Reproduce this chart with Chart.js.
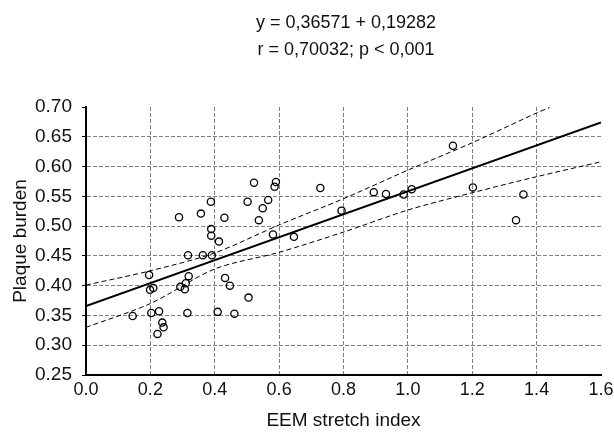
<!DOCTYPE html>
<html>
<head>
<meta charset="utf-8">
<script src="https://cdn.jsdelivr.net/npm/chart.js@4.4.1/dist/chart.umd.min.js"></script>
<style>
  body { margin: 0; background: #fff; }
  #wrap { width: 614px; height: 436px; }
</style>
</head>
<body>
<div id="wrap"><canvas id="myChart" width="614" height="436"></canvas></div>
<script>
var FONT = "'Liberation Sans Narrow', 'Liberation Sans', Arial, sans-serif";

var titleLines = ['y = 0,36571 + 0,19282', 'r = 0,70032; p < 0,001'];
var xTitle = 'EEM stretch index';
var yTitle = 'Plaque burden';

// observations (EEM stretch index, plaque burden)
var stretchIndex = [0.289, 0.357, 0.388, 0.430, 0.389, 0.389, 0.413, 0.522, 0.502, 0.566,
    0.549, 0.537, 0.590, 0.586, 0.581, 0.646, 0.728, 0.794,
    0.196, 0.199, 0.209, 0.145, 0.203, 0.227, 0.237, 0.241, 0.222, 0.293,
    0.310, 0.307, 0.319, 0.317, 0.363, 0.391, 0.315, 0.409, 0.432, 0.447,
    0.461, 0.505,
    0.894, 0.932, 0.987, 1.012, 1.140, 1.202, 1.359, 1.336];
var plaqueBurden = [0.515, 0.521, 0.541, 0.514, 0.495, 0.484, 0.474, 0.573, 0.541, 0.544,
    0.530, 0.510, 0.574, 0.566, 0.486, 0.482, 0.564, 0.526,
    0.418, 0.393, 0.396, 0.349, 0.354, 0.357, 0.338, 0.330, 0.319, 0.398,
    0.404, 0.394, 0.416, 0.451, 0.451, 0.451, 0.354, 0.356, 0.413, 0.400,
    0.353, 0.380,
    0.557, 0.554, 0.553, 0.562, 0.635, 0.565, 0.553, 0.510];

// regression line y = 0,36571 + 0,19282x
var fitX = [0, 1.6];
var fitY = [0.36571, 0.67422];

// confidence band
var upperX = [0, 0.2, 0.4, 0.6, 0.8, 1.0, 1.2, 1.4, 1.44];
var upperY = [0.401, 0.425, 0.455, 0.502, 0.546, 0.594, 0.640, 0.690, 0.699];
var lowerX = [0, 0.2, 0.4, 0.6, 0.8, 1.0, 1.2, 1.4, 1.6];
var lowerY = [0.330, 0.370, 0.428, 0.456, 0.490, 0.527, 0.556, 0.583, 0.608];

function pairs(xs, ys) {
    return xs.map(function (x, i) { return {x: x, y: ys[i]}; });
}

var titlePlugin = {
    id: 'twoLineTitle',
    afterDraw: function (chart) {
        var c = chart.ctx;
        c.save();
        c.fillStyle = '#111';
        c.font = '18px ' + FONT;
        c.textAlign = 'center';
        c.textBaseline = 'middle';
        c.fillText(titleLines[0], 346, 23);
        c.fillText(titleLines[1], 346, 50);
        c.restore();
    }
};

var ctx = document.getElementById('myChart').getContext('2d');
var myChart = new Chart(ctx, {
    type: 'scatter',
    data: {
        datasets: [{
            data: pairs(stretchIndex, plaqueBurden),
            pointRadius: 3.6,
            pointBorderWidth: 1.3,
            pointBorderColor: '#000',
            pointBackgroundColor: 'rgba(255,255,255,0)',
            showLine: false
        }, {
            data: pairs(fitX, fitY),
            showLine: true,
            borderColor: '#000',
            borderWidth: 2,
            pointRadius: 0
        }, {
            data: pairs(upperX, upperY),
            showLine: true,
            borderColor: '#000',
            borderWidth: 1,
            borderDash: [5, 3],
            tension: 0.3,
            pointRadius: 0
        }, {
            data: pairs(lowerX, lowerY),
            showLine: true,
            borderColor: '#000',
            borderWidth: 1,
            borderDash: [5, 3],
            tension: 0.3,
            pointRadius: 0
        }]
    },
    options: {
        responsive: false,
        animation: false,
        layout: { padding: { top: 107, right: 13, left: 0, bottom: 0 } },
        plugins: {
            legend: { display: false },
            tooltip: { enabled: false }
        },
        scales: {
            x: {
                type: 'linear',
                min: 0, max: 1.6,
                afterFit: function (s) { s.height = 61; s.paddingRight = 13; },
                ticks: {
                    stepSize: 0.2,
                    color: '#111',
                    padding: 4,
                    font: { family: FONT, size: 18 },
                    callback: function (v) { return v.toFixed(1); }
                },
                grid: {
                    drawTicks: false,
                    color: function (c) {
                        var v = c.tick ? c.tick.value : 0;
                        return (v <= 0.001 || v >= 1.599) ? 'rgba(0,0,0,0)' : '#808080';
                    },
                    lineWidth: 1
                },
                border: { color: '#000', width: 2, dash: [4, 2] },
                title: {
                    display: true,
                    text: xTitle,
                    color: '#111',
                    font: { family: FONT, size: 19 },
                    padding: { top: 13 }
                }
            },
            y: {
                min: 0.25, max: 0.70,
                afterFit: function (s) { s.width = 86; },
                ticks: {
                    stepSize: 0.05,
                    color: '#111',
                    padding: 10,
                    font: { family: FONT, size: 19 },
                    callback: function (v) { return v.toFixed(2); }
                },
                grid: {
                    tickLength: 4,
                    tickColor: '#000',
                    color: function (c) {
                        var v = c.tick ? c.tick.value : 0;
                        return (v <= 0.2501 || v >= 0.6999) ? 'rgba(0,0,0,0)' : '#808080';
                    },
                    lineWidth: 1
                },
                border: { color: '#000', width: 2, dash: [4, 2] },
                title: {
                    display: true,
                    text: yTitle,
                    color: '#111',
                    font: { family: FONT, size: 19 },
                    padding: { top: 9, bottom: 0 }
                }
            }
        }
    },
    plugins: [titlePlugin]
});
</script>
</body>
</html>
